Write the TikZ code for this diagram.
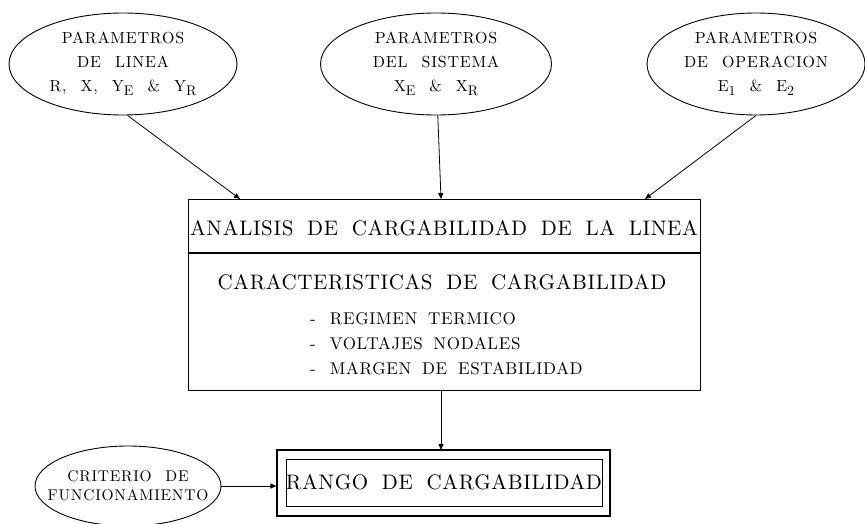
\documentclass[tikz,border=0pt]{standalone}
\usepackage{fontspec}
\usetikzlibrary{shapes.geometric,arrows.meta,calc}
\newfontfamily\fTitle{lmroman10-regular.otf}[LetterSpace=3,WordSpace=1.8]
\newfontfamily\fItem{lmroman10-regular.otf}[LetterSpace=4,WordSpace=1.7]
\newfontfamily\fEll{lmroman10-regular.otf}[LetterSpace=5,WordSpace=2.3]
\newfontfamily\fSub{lmroman10-regular.otf}
\newcommand{\subx}[1]{\raisebox{-4.5pt}{\fontsize{14}{14}\fSub #1}}
\begin{document}
\begin{tikzpicture}[x=1pt,y=-1pt,
  ell/.style={draw, ellipse, line width=0.9pt, inner sep=0pt, align=center,
    font=\fEll\fontsize{16}{24}\selectfont},
  arr/.style={line width=0.8pt, -{Triangle[length=6pt,width=5pt]}},
  boxline/.style={draw, line width=1.1pt},
  lbl/.style={inner sep=0pt}]
\useasboundingbox (0,0) rectangle (865,524);
% top ellipses
\node[ell, minimum width=228, minimum height=102] (e1) at (123,64)
  {PARAMETROS\\DE LINEA\\R, X, Y\subx{E} \& Y\subx{R}};
\node[ell, minimum width=231, minimum height=102] (e2) at (436,64)
  {PARAMETROS\\DEL SISTEMA\\X\subx{E} \& X\subx{R}};
\node[ell, minimum width=218, minimum height=102] (e3) at (756,64)
  {PARAMETROS\\DE OPERACION\\E\subx{1} \& E\subx{2}};
% main box
\node[boxline, minimum width=512, minimum height=191, anchor=north west, inner sep=0pt] (main) at (188,199) {};
\coordinate (dl) at (188,253);
\draw[line width=1.1pt] (dl) -- (dl -| main.east);
\node[lbl, font=\fTitle\fontsize{21}{25}\selectfont] (title) at (444,228) {ANALISIS DE CARGABILIDAD DE LA LINEA};
\node[lbl, font=\fTitle\fontsize{21}{25}\selectfont] (car) at (442,282) {CARACTERISTICAS DE CARGABILIDAD};
\node[lbl, anchor=west, align=left, font=\fItem\fontsize{17}{25}\selectfont] (items) at (310,344)
  {-\hspace{14pt}REGIMEN TERMICO\\-\hspace{14pt}VOLTAJES NODALES\\-\hspace{14pt}MARGEN DE ESTABILIDAD};
% arrow end points on the box top
\coordinate (a1) at (240,199);
\coordinate (a2) at (441,199);
\coordinate (a3) at (645,199);
\draw[arr] (e1.-85) -- (a1);
\draw[arr] (e2.-88) -- (a2);
\draw[arr] (e3.south) -- (a3);
% result box
\node[boxline, minimum width=333, minimum height=66, inner sep=0pt] (rango) at (443.5,483) {};
\node[draw, line width=0.9pt, minimum width=312, minimum height=47, inner sep=0pt,
  font=\fTitle\fontsize{21}{25}\selectfont] (rangoin) at (444,482.5) {RANGO DE CARGABILIDAD};
\coordinate (a4) at (441,450);
\draw[arr] (main.south -| a4) -- (a4);
% criterio
\node[draw, ellipse, line width=0.9pt, minimum width=186, minimum height=80, inner sep=0pt] (crit) at (128,486) {};
\node[lbl, align=center, font=\fEll\fontsize{15.5}{19}\selectfont] (crittext) at (crit.center)
  {CRITERIO DE\\FUNCIONAMIENTO};
\draw[arr] (crit.east) -- (crit.east -| rango.west);
\end{tikzpicture}
\end{document}
